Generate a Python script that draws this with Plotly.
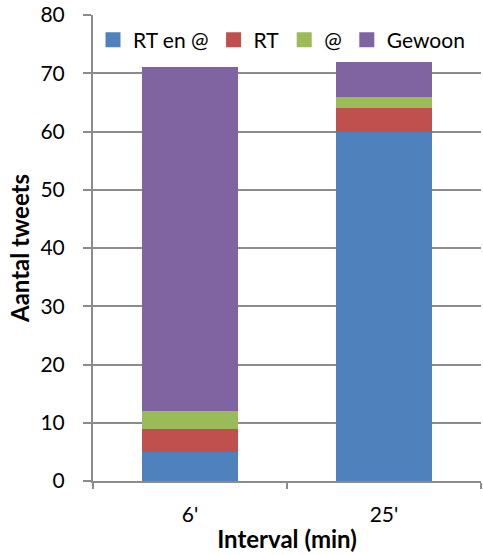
import plotly.graph_objects as go

intervals = ["6'", "25'"]
series_names = ["RT en @", "RT", "@", "Gewoon"]
rt_en_at = [5, 60]
rt = [4, 4]
at = [3, 2]
gewoon = [59, 6]
colors = ["#4F81BD", "#C0504D", "#9BBB59", "#8064A2"]
y_ticks = [0, 10, 20, 30, 40, 50, 60, 70, 80]

FONT = "Lato, 'Open Sans', sans-serif"
GREY = "#8C8C8C"

fig = go.Figure()
for name, vals, col in zip(series_names, [rt_en_at, rt, at, gewoon], colors):
    fig.add_trace(go.Bar(
        x=intervals, y=vals, name=name, legendgroup=name, showlegend=False,
        marker=dict(color=col, line=dict(width=0)),
    ))
# legend keys: larger square swatches than the default bar icon
for name, col in zip(series_names, colors):
    fig.add_trace(go.Scatter(
        x=[None], y=[None], mode="markers", name=name, legendgroup=name,
        marker=dict(symbol="square", size=15, color=col, line=dict(width=0)),
    ))

fig.update_layout(
    barmode="stack",
    bargap=0.51,
    width=483, height=555,
    margin=dict(l=93, r=2, t=15, b=74),
    paper_bgcolor="white", plot_bgcolor="white",
    font=dict(family=FONT, size=21, color="#000000"),
    legend=dict(
        orientation="h", x=0, y=0.99, xanchor="left", yanchor="top",
        bgcolor="rgba(0,0,0,0)", font=dict(size=21),
        itemsizing="trace", traceorder="normal",
    ),
    showlegend=True,
    xaxis=dict(
        showline=True, linecolor=GREY, linewidth=2,
        ticks="outside", ticklen=6, tickwidth=2, tickcolor=GREY,
        tickson="boundaries", ticklabelstandoff=14,
        title=dict(text="<b>Interval (min)</b>", font=dict(size=24), standoff=6),
        tickfont=dict(size=21),
    ),
    yaxis=dict(
        range=[0, 80], tickvals=y_ticks,
        showgrid=True, gridcolor=GREY, gridwidth=2,
        showline=True, linecolor=GREY, linewidth=2,
        ticks="outside", ticklen=8, tickwidth=2, tickcolor=GREY,
        ticklabelstandoff=14,
        title=dict(text="<b>Aantal tweets</b>", font=dict(size=24), standoff=4),
        tickfont=dict(size=21),
        zeroline=False,
    ),
)

fig.write_html("out.html")
